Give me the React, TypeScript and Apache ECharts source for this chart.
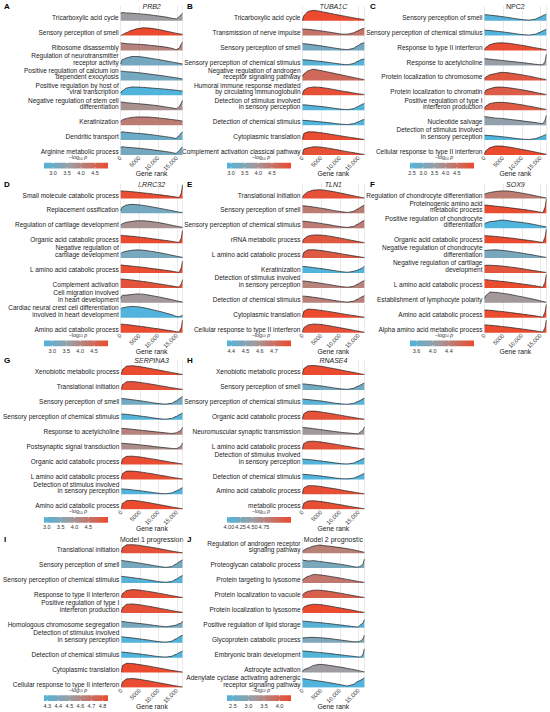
import React, { useEffect, useRef } from "react";
import * as echarts from "echarts";

// Shared gene-rank sample positions for every running curve
const GENE_RANK = [0, 400, 1500, 3000, 4500, 6000, 7500, 9000, 10500, 12000, 13500, 14800, 15600, 16100, 16500];
const X_TICKS = [0, 5000, 10000, 15000];
const X_MAX = 16500;

// ---------- Panel A ----------
const A_TERMS = [
  "Tricarboxylic acid cycle",
  "Sensory perception of smell",
  "Ribosome disassembly",
  "Regulation of neurotransmitter\nreceptor activity",
  "Positive regulation of calcium ion\ndependent exocytosis",
  "Positive regulation by host of\nviral transcription",
  "Negative regulation of stem cell\ndifferentiation",
  "Keratinization",
  "Dendritic transport",
  "Arginine metabolic process",
];
const A_NLOGP = [3.64, 4.96, 4.05, 3.14, 3.12, 2.68, 3.82, 4.15, 3.02, 3.14];
const A_CURVES = [
  [0.5, 0.55, 0.52, 0.5, 0.47, 0.44, 0.4, 0.35, 0.3, 0.25, 0.17, 0.12, 0.25, 0.4, 0.5],
  [0, 0.06, 0.2, 0.36, 0.47, 0.52, 0.51, 0.46, 0.39, 0.31, 0.23, 0.16, 0.12, 0.1, 0.09],
  [0.53, 0.5, 0.46, 0.44, 0.42, 0.4, 0.36, 0.32, 0.28, 0.23, 0.16, 0.06, 0.15, 0.4, 0.58],
  [0.1, 0.38, 0.5, 0.6, 0.6, 0.56, 0.5, 0.44, 0.38, 0.31, 0.24, 0.18, 0.14, 0.12, 0.1],
  [0.62, 0.62, 0.58, 0.56, 0.52, 0.48, 0.43, 0.38, 0.33, 0.28, 0.22, 0.17, 0.14, 0.11, 0.09],
  [0.15, 0.3, 0.48, 0.56, 0.55, 0.53, 0.5, 0.47, 0.44, 0.41, 0.37, 0.34, 0.31, 0.3, 0.29],
  [0.55, 0.55, 0.5, 0.47, 0.44, 0.41, 0.37, 0.33, 0.28, 0.22, 0.16, 0.1, 0.22, 0.45, 0.65],
  [0.25, 0.35, 0.45, 0.52, 0.55, 0.55, 0.54, 0.51, 0.47, 0.43, 0.38, 0.34, 0.31, 0.29, 0.27],
  [0.5, 0.55, 0.52, 0.48, 0.45, 0.42, 0.38, 0.33, 0.28, 0.23, 0.17, 0.1, 0.3, 0.45, 0.55],
  [0.52, 0.55, 0.52, 0.49, 0.46, 0.42, 0.38, 0.33, 0.28, 0.23, 0.17, 0.1, 0.28, 0.45, 0.55],
];
const A_LEGEND_TICKS = ["3.0", "3.5", "4.0", "4.5"];
const A_LEGEND_RANGE = [2.68, 4.96];

// ---------- Panel B ----------
const B_TERMS = [
  "Tricarboxylic acid cycle",
  "Transmission of nerve impulse",
  "Sensory perception of smell",
  "Sensory perception of chemical stimulus",
  "Negative regulation of androgen\nreceptor signaling pathway",
  "Humoral immune response mediated\nby circulating immunoglobulin",
  "Detection of stimulus involved\nin sensory perception",
  "Detection of chemical stimulus",
  "Cytoplasmic translation",
  "Complement activation classical pathway",
];
const B_NLOGP = [5.2, 4.5, 3.3, 2.95, 4.68, 5.1, 2.9, 2.85, 5.15, 5.1];
const B_CURVES = [
  [0, 0.35, 0.62, 0.7, 0.64, 0.56, 0.49, 0.41, 0.34, 0.27, 0.2, 0.14, 0.11, 0.09, 0.08],
  [0.44, 0.44, 0.42, 0.38, 0.33, 0.28, 0.22, 0.16, 0.1, 0.1, 0.18, 0.32, 0.42, 0.47, 0.5],
  [0.47, 0.46, 0.43, 0.38, 0.33, 0.27, 0.21, 0.15, 0.09, 0.06, 0.14, 0.32, 0.45, 0.5, 0.52],
  [0.38, 0.38, 0.36, 0.32, 0.28, 0.24, 0.19, 0.13, 0.08, 0.05, 0.12, 0.28, 0.38, 0.42, 0.44],
  [0.25, 0.45, 0.65, 0.75, 0.68, 0.6, 0.52, 0.44, 0.36, 0.28, 0.2, 0.13, 0.09, 0.07, 0.05],
  [0.05, 0.35, 0.5, 0.56, 0.54, 0.49, 0.43, 0.36, 0.29, 0.23, 0.16, 0.11, 0.08, 0.06, 0.05],
  [0.36, 0.36, 0.34, 0.3, 0.26, 0.22, 0.17, 0.11, 0.06, 0.04, 0.1, 0.24, 0.35, 0.42, 0.45],
  [0.32, 0.32, 0.3, 0.27, 0.23, 0.19, 0.15, 0.1, 0.06, 0.04, 0.09, 0.21, 0.3, 0.36, 0.38],
  [0.05, 0.45, 0.55, 0.55, 0.5, 0.45, 0.39, 0.33, 0.27, 0.21, 0.15, 0.1, 0.07, 0.05, 0.04],
  [0.05, 0.4, 0.48, 0.55, 0.54, 0.49, 0.43, 0.36, 0.29, 0.22, 0.16, 0.1, 0.07, 0.05, 0.04],
];
const B_LEGEND_TICKS = ["3.0", "3.5", "4.0", "4.5"];
const B_LEGEND_RANGE = [2.85, 5.2];

// ---------- Panel C ----------
const C_TERMS = [
  "Sensory perception of smell",
  "Sensory perception of chemical stimulus",
  "Response to type II interferon",
  "Response to acetylcholine",
  "Protein localization to chromosome",
  "Protein localization to chromatin",
  "Positive regulation of type I\ninterferon production",
  "Nucleotide salvage",
  "Detection of stimulus involved\nin sensory perception",
  "Cellular response to type II interferon",
];
const C_NLOGP = [2.5, 2.45, 5.2, 3.5, 5.0, 4.9, 4.95, 3.41, 2.41, 5.27];
const C_CURVES = [
  [0.4, 0.4, 0.37, 0.33, 0.28, 0.23, 0.17, 0.11, 0.06, 0.04, 0.1, 0.24, 0.34, 0.4, 0.44],
  [0.36, 0.36, 0.34, 0.3, 0.26, 0.21, 0.16, 0.1, 0.06, 0.04, 0.09, 0.22, 0.32, 0.38, 0.42],
  [0.05, 0.22, 0.4, 0.5, 0.52, 0.5, 0.45, 0.39, 0.33, 0.26, 0.19, 0.13, 0.09, 0.07, 0.05],
  [0.45, 0.45, 0.42, 0.38, 0.34, 0.3, 0.26, 0.22, 0.18, 0.13, 0.08, 0.05, 0.04, 0.25, 0.75],
  [0.08, 0.25, 0.38, 0.46, 0.54, 0.52, 0.47, 0.41, 0.35, 0.28, 0.2, 0.13, 0.09, 0.07, 0.05],
  [0.15, 0.35, 0.45, 0.55, 0.55, 0.52, 0.47, 0.41, 0.35, 0.28, 0.2, 0.13, 0.09, 0.07, 0.05],
  [0.1, 0.3, 0.45, 0.52, 0.53, 0.5, 0.46, 0.4, 0.34, 0.27, 0.2, 0.13, 0.09, 0.07, 0.05],
  [0.58, 0.56, 0.52, 0.47, 0.45, 0.41, 0.36, 0.32, 0.27, 0.22, 0.18, 0.12, 0.1, 0.3, 0.65],
  [0.32, 0.32, 0.3, 0.27, 0.23, 0.19, 0.14, 0.09, 0.05, 0.04, 0.09, 0.2, 0.28, 0.34, 0.38],
  [0.05, 0.3, 0.5, 0.6, 0.6, 0.55, 0.49, 0.42, 0.35, 0.28, 0.2, 0.13, 0.09, 0.07, 0.05],
];
const C_LEGEND_TICKS = ["2.5", "3.0", "3.5", "4.0", "4.5"];
const C_LEGEND_RANGE = [2.41, 5.27];

// ---------- Panel D ----------
const D_TERMS = [
  "Small molecule catabolic process",
  "Replacement ossification",
  "Regulation of cartilage development",
  "Organic acid catabolic process",
  "Negative regulation of\ncartilage development",
  "L amino acid catabolic process",
  "Complement activation",
  "Cell migration involved\nin heart development",
  "Cardiac neural crest cell differentiation\ninvolved in heart development",
  "Amino acid catabolic process",
];
const D_NLOGP = [4.95, 3.16, 3.85, 5.0, 3.2, 4.95, 4.85, 3.74, 2.7, 4.98];
const D_CURVES = [
  [0.5, 0.5, 0.48, 0.45, 0.41, 0.37, 0.33, 0.28, 0.24, 0.19, 0.14, 0.09, 0.06, 0.3, 0.9],
  [0.18, 0.42, 0.55, 0.6, 0.58, 0.53, 0.47, 0.4, 0.33, 0.26, 0.19, 0.12, 0.08, 0.06, 0.05],
  [0.2, 0.3, 0.4, 0.46, 0.5, 0.5, 0.47, 0.42, 0.36, 0.29, 0.21, 0.14, 0.1, 0.08, 0.07],
  [0.53, 0.52, 0.49, 0.46, 0.42, 0.38, 0.33, 0.28, 0.23, 0.18, 0.13, 0.07, 0.05, 0.3, 0.85],
  [0.3, 0.38, 0.46, 0.52, 0.55, 0.53, 0.48, 0.42, 0.35, 0.28, 0.2, 0.13, 0.09, 0.07, 0.05],
  [0.54, 0.53, 0.5, 0.46, 0.42, 0.38, 0.33, 0.28, 0.23, 0.18, 0.13, 0.07, 0.05, 0.3, 0.8],
  [0.6, 0.6, 0.57, 0.53, 0.48, 0.43, 0.38, 0.32, 0.26, 0.2, 0.14, 0.08, 0.06, 0.25, 0.55],
  [0.3, 0.5, 0.52, 0.56, 0.6, 0.58, 0.52, 0.45, 0.38, 0.3, 0.22, 0.14, 0.1, 0.07, 0.05],
  [0.62, 0.66, 0.72, 0.76, 0.74, 0.68, 0.6, 0.51, 0.42, 0.32, 0.22, 0.1, 0.06, 0.12, 0.18],
  [0.58, 0.57, 0.54, 0.5, 0.45, 0.4, 0.35, 0.29, 0.24, 0.18, 0.13, 0.07, 0.05, 0.3, 0.85],
];
const D_LEGEND_TICKS = ["3.0", "3.5", "4.0", "4.5"];
const D_LEGEND_RANGE = [2.7, 5.0];

// ---------- Panel E ----------
const E_TERMS = [
  "Translational initiation",
  "Sensory perception of smell",
  "Sensory perception of chemical stimulus",
  "rRNA metabolic process",
  "L amino acid catabolic process",
  "Keratinization",
  "Detection of stimulus involved\nin sensory perception",
  "Detection of chemical stimulus",
  "Cytoplasmic translation",
  "Cellular response to type II interferon",
];
const E_NLOGP = [4.8, 4.66, 4.66, 4.78, 4.77, 4.37, 4.64, 4.65, 4.82, 4.8];
const E_CURVES = [
  [0.05, 0.25, 0.45, 0.56, 0.58, 0.55, 0.49, 0.42, 0.34, 0.26, 0.18, 0.11, 0.07, 0.05, 0.04],
  [0.5, 0.5, 0.47, 0.42, 0.36, 0.3, 0.23, 0.16, 0.1, 0.06, 0.12, 0.3, 0.42, 0.5, 0.55],
  [0.47, 0.47, 0.44, 0.39, 0.34, 0.28, 0.22, 0.15, 0.09, 0.06, 0.11, 0.28, 0.4, 0.48, 0.52],
  [0.05, 0.3, 0.48, 0.55, 0.55, 0.52, 0.46, 0.39, 0.32, 0.25, 0.17, 0.11, 0.07, 0.05, 0.04],
  [0.05, 0.4, 0.55, 0.56, 0.52, 0.47, 0.41, 0.35, 0.28, 0.22, 0.15, 0.1, 0.07, 0.05, 0.04],
  [0.45, 0.44, 0.41, 0.36, 0.31, 0.26, 0.2, 0.14, 0.08, 0.05, 0.1, 0.2, 0.3, 0.36, 0.45],
  [0.46, 0.46, 0.43, 0.38, 0.33, 0.27, 0.21, 0.14, 0.08, 0.05, 0.1, 0.26, 0.38, 0.45, 0.5],
  [0.45, 0.45, 0.42, 0.37, 0.32, 0.26, 0.2, 0.14, 0.08, 0.05, 0.1, 0.25, 0.37, 0.44, 0.48],
  [0.05, 0.45, 0.58, 0.56, 0.51, 0.46, 0.4, 0.34, 0.27, 0.21, 0.15, 0.1, 0.07, 0.05, 0.04],
  [0.05, 0.35, 0.52, 0.58, 0.56, 0.51, 0.45, 0.38, 0.31, 0.24, 0.17, 0.11, 0.07, 0.05, 0.04],
];
const E_LEGEND_TICKS = ["4.4", "4.5", "4.6", "4.7"];
const E_LEGEND_RANGE = [4.37, 4.82];

// ---------- Panel F ----------
const F_TERMS = [
  "Regulation of chondrocyte differentiation",
  "Proteinogenic amino acid\nmetabolic process",
  "Positive regulation of chondrocyte\ndifferentiation",
  "Organic acid catabolic process",
  "Negative regulation of chondrocyte\ndifferentiation",
  "Negative regulation of cartilage\ndevelopment",
  "L amino acid catabolic process",
  "Establishment of lymphocyte polarity",
  "Amino acid catabolic process",
  "Alpha amino acid metabolic process",
];
const F_NLOGP = [4.47, 5.0, 3.44, 5.02, 3.79, 4.9, 5.0, 4.15, 5.0, 5.0];
const F_CURVES = [
  [0.28, 0.33, 0.4, 0.46, 0.5, 0.5, 0.46, 0.4, 0.33, 0.26, 0.18, 0.11, 0.07, 0.05, 0.04],
  [0.55, 0.55, 0.52, 0.48, 0.44, 0.4, 0.35, 0.3, 0.25, 0.2, 0.14, 0.08, 0.05, 0.35, 0.95],
  [0.28, 0.35, 0.45, 0.48, 0.55, 0.52, 0.46, 0.42, 0.37, 0.31, 0.24, 0.17, 0.13, 0.11, 0.1],
  [0.5, 0.5, 0.48, 0.45, 0.41, 0.37, 0.33, 0.28, 0.23, 0.18, 0.13, 0.07, 0.05, 0.35, 0.95],
  [0.5, 0.52, 0.54, 0.55, 0.52, 0.48, 0.43, 0.37, 0.31, 0.25, 0.18, 0.12, 0.08, 0.06, 0.05],
  [0.5, 0.52, 0.52, 0.5, 0.47, 0.43, 0.38, 0.33, 0.27, 0.21, 0.15, 0.1, 0.07, 0.05, 0.04],
  [0.55, 0.55, 0.52, 0.48, 0.44, 0.4, 0.35, 0.3, 0.25, 0.2, 0.14, 0.08, 0.05, 0.35, 0.9],
  [0.3, 0.5, 0.72, 0.7, 0.65, 0.6, 0.53, 0.45, 0.38, 0.3, 0.22, 0.14, 0.09, 0.06, 0.05],
  [0.52, 0.52, 0.5, 0.46, 0.42, 0.38, 0.33, 0.28, 0.23, 0.18, 0.13, 0.07, 0.05, 0.35, 0.9],
  [0.52, 0.52, 0.5, 0.46, 0.42, 0.38, 0.33, 0.28, 0.23, 0.18, 0.13, 0.07, 0.05, 0.3, 0.85],
];
const F_LEGEND_TICKS = ["3.6", "4.0", "4.4"];
const F_LEGEND_RANGE = [3.44, 5.02];

// ---------- Panel G ----------
const G_TERMS = [
  "Xenobiotic metabolic process",
  "Translational initiation",
  "Sensory perception of smell",
  "Sensory perception of chemical stimulus",
  "Response to acetylcholine",
  "Postsynaptic signal transduction",
  "Organic acid catabolic process",
  "L amino acid catabolic process",
  "Detection of stimulus involved\nin sensory perception",
  "Amino acid catabolic process",
];
const G_NLOGP = [5.2, 5.1, 3.32, 2.95, 4.29, 4.1, 5.15, 5.15, 2.9, 5.21];
const G_CURVES = [
  [0.05, 0.4, 0.6, 0.62, 0.58, 0.52, 0.45, 0.38, 0.31, 0.24, 0.17, 0.11, 0.07, 0.05, 0.04],
  [0.05, 0.38, 0.55, 0.56, 0.52, 0.47, 0.41, 0.35, 0.28, 0.22, 0.15, 0.1, 0.07, 0.05, 0.04],
  [0.42, 0.42, 0.39, 0.34, 0.29, 0.24, 0.18, 0.12, 0.07, 0.05, 0.1, 0.26, 0.4, 0.5, 0.55],
  [0.38, 0.38, 0.36, 0.32, 0.27, 0.22, 0.17, 0.11, 0.06, 0.04, 0.09, 0.22, 0.33, 0.4, 0.45],
  [0.42, 0.42, 0.4, 0.36, 0.32, 0.28, 0.24, 0.2, 0.16, 0.12, 0.08, 0.12, 0.22, 0.3, 0.5],
  [0.42, 0.42, 0.4, 0.37, 0.33, 0.29, 0.25, 0.2, 0.16, 0.12, 0.08, 0.06, 0.14, 0.25, 0.45],
  [0.05, 0.4, 0.55, 0.56, 0.52, 0.47, 0.41, 0.35, 0.28, 0.22, 0.15, 0.1, 0.07, 0.05, 0.04],
  [0.05, 0.42, 0.56, 0.56, 0.52, 0.47, 0.41, 0.35, 0.28, 0.22, 0.15, 0.1, 0.07, 0.05, 0.04],
  [0.36, 0.36, 0.34, 0.3, 0.26, 0.21, 0.16, 0.1, 0.06, 0.04, 0.09, 0.22, 0.32, 0.4, 0.45],
  [0.05, 0.42, 0.58, 0.6, 0.56, 0.5, 0.44, 0.37, 0.3, 0.23, 0.16, 0.1, 0.07, 0.05, 0.04],
];
const G_LEGEND_TICKS = ["3.0", "3.5", "4.0", "4.5"];
const G_LEGEND_RANGE = [2.9, 5.21];

// ---------- Panel H ----------
const H_TERMS = [
  "Xenobiotic metabolic process",
  "Sensory perception of smell",
  "Sensory perception of chemical stimulus",
  "Organic acid catabolic process",
  "Neuromuscular synaptic transmission",
  "L amino acid catabolic process",
  "Detection of stimulus involved\nin sensory perception",
  "Detection of chemical stimulus",
  "Amino acid catabolic process",
  "metabolic process",
];
const H_NLOGP = [5.33, 4.21, 4.03, 5.25, 4.58, 5.25, 3.98, 3.96, 5.28, 5.28];
const H_CURVES = [
  [0.05, 0.45, 0.62, 0.64, 0.6, 0.54, 0.47, 0.4, 0.32, 0.25, 0.18, 0.11, 0.07, 0.05, 0.04],
  [0.4, 0.4, 0.37, 0.33, 0.28, 0.23, 0.17, 0.11, 0.06, 0.04, 0.1, 0.24, 0.34, 0.42, 0.46],
  [0.38, 0.38, 0.35, 0.31, 0.27, 0.22, 0.16, 0.1, 0.06, 0.04, 0.09, 0.22, 0.32, 0.4, 0.44],
  [0.05, 0.42, 0.57, 0.58, 0.54, 0.48, 0.42, 0.36, 0.29, 0.22, 0.16, 0.1, 0.07, 0.05, 0.04],
  [0.5, 0.48, 0.45, 0.4, 0.35, 0.3, 0.25, 0.2, 0.15, 0.12, 0.08, 0.06, 0.2, 0.3, 0.52],
  [0.05, 0.42, 0.55, 0.56, 0.52, 0.47, 0.41, 0.35, 0.28, 0.22, 0.15, 0.1, 0.07, 0.05, 0.04],
  [0.36, 0.36, 0.33, 0.3, 0.25, 0.2, 0.15, 0.1, 0.05, 0.04, 0.09, 0.22, 0.32, 0.38, 0.42],
  [0.34, 0.34, 0.32, 0.28, 0.24, 0.19, 0.14, 0.09, 0.05, 0.04, 0.08, 0.2, 0.3, 0.36, 0.4],
  [0.05, 0.45, 0.58, 0.58, 0.54, 0.48, 0.42, 0.36, 0.29, 0.22, 0.16, 0.1, 0.07, 0.05, 0.04],
  [0.05, 0.42, 0.56, 0.57, 0.53, 0.48, 0.42, 0.35, 0.29, 0.22, 0.15, 0.1, 0.07, 0.05, 0.04],
];
const H_LEGEND_TICKS = ["4.00", "4.25", "4.50", "4.75"];
const H_LEGEND_RANGE = [3.96, 5.33];

// ---------- Panel I ----------
const I_TERMS = [
  "Translational initiation",
  "Sensory perception of smell",
  "Sensory perception of chemical stimulus",
  "Response to type II interferon",
  "Positive regulation of type I\ninterferon production",
  "Homologous chromosome segregation",
  "Detection of stimulus involved\nin sensory perception",
  "Detection of chemical stimulus",
  "Cytoplasmic translation",
  "Cellular response to type II interferon",
];
const I_NLOGP = [4.82, 4.39, 4.29, 4.83, 4.82, 4.39, 4.28, 4.27, 4.85, 4.84];
const I_CURVES = [
  [0.08, 0.4, 0.56, 0.57, 0.54, 0.48, 0.42, 0.36, 0.29, 0.22, 0.15, 0.09, 0.06, 0.04, 0.03],
  [0.52, 0.5, 0.46, 0.41, 0.35, 0.29, 0.23, 0.16, 0.1, 0.05, 0.1, 0.28, 0.42, 0.5, 0.55],
  [0.45, 0.44, 0.41, 0.36, 0.31, 0.26, 0.2, 0.14, 0.08, 0.05, 0.1, 0.26, 0.38, 0.46, 0.5],
  [0.05, 0.32, 0.5, 0.56, 0.54, 0.49, 0.43, 0.37, 0.3, 0.23, 0.16, 0.1, 0.07, 0.05, 0.04],
  [0.05, 0.38, 0.58, 0.6, 0.56, 0.5, 0.44, 0.37, 0.3, 0.23, 0.16, 0.1, 0.07, 0.05, 0.04],
  [0.42, 0.42, 0.38, 0.34, 0.3, 0.26, 0.21, 0.16, 0.11, 0.07, 0.12, 0.18, 0.28, 0.3, 0.45],
  [0.4, 0.39, 0.36, 0.32, 0.27, 0.22, 0.17, 0.11, 0.06, 0.04, 0.1, 0.26, 0.38, 0.46, 0.5],
  [0.38, 0.37, 0.34, 0.3, 0.26, 0.21, 0.16, 0.1, 0.06, 0.04, 0.09, 0.22, 0.33, 0.4, 0.45],
  [0.05, 0.5, 0.62, 0.6, 0.55, 0.49, 0.43, 0.36, 0.29, 0.22, 0.15, 0.1, 0.07, 0.05, 0.04],
  [0.05, 0.4, 0.58, 0.6, 0.56, 0.5, 0.44, 0.37, 0.3, 0.23, 0.16, 0.1, 0.07, 0.05, 0.04],
];
const I_LEGEND_TICKS = ["4.3", "4.4", "4.5", "4.6", "4.7", "4.8"];
const I_LEGEND_RANGE = [4.27, 4.85];

// ---------- Panel J ----------
const J_TERMS = [
  "Regulation of androgen receptor\nsignaling pathway",
  "Proteoglycan catabolic process",
  "Protein targeting to lysosome",
  "Protein localization to vacuole",
  "Protein localization to lysosome",
  "Positive regulation of lipid storage",
  "Glycoprotein catabolic process",
  "Embryonic brain development",
  "Astrocyte activation",
  "Adenylate cyclase activating adrenergic\nreceptor signaling pathway",
];
const J_NLOGP = [3.59, 2.76, 3.71, 4.06, 4.37, 2.41, 2.83, 2.35, 3.18, 2.31];
const J_CURVES = [
  [0.12, 0.22, 0.35, 0.48, 0.55, 0.5, 0.46, 0.41, 0.36, 0.3, 0.23, 0.16, 0.11, 0.08, 0.06],
  [0.55, 0.52, 0.48, 0.5, 0.45, 0.4, 0.35, 0.3, 0.24, 0.18, 0.1, 0.06, 0.15, 0.25, 0.6],
  [0.15, 0.3, 0.45, 0.58, 0.55, 0.5, 0.44, 0.38, 0.31, 0.24, 0.17, 0.11, 0.08, 0.06, 0.05],
  [0.15, 0.32, 0.45, 0.52, 0.52, 0.48, 0.43, 0.37, 0.3, 0.23, 0.16, 0.1, 0.07, 0.05, 0.04],
  [0.2, 0.4, 0.52, 0.58, 0.56, 0.51, 0.45, 0.38, 0.31, 0.24, 0.17, 0.1, 0.07, 0.05, 0.04],
  [0.45, 0.44, 0.42, 0.38, 0.35, 0.31, 0.27, 0.22, 0.18, 0.13, 0.08, 0.05, 0.22, 0.3, 0.55],
  [0.32, 0.33, 0.35, 0.36, 0.34, 0.31, 0.27, 0.22, 0.17, 0.12, 0.07, 0.06, 0.12, 0.25, 0.5],
  [0.45, 0.44, 0.42, 0.38, 0.35, 0.31, 0.27, 0.22, 0.18, 0.13, 0.09, 0.05, 0.04, 0.2, 0.6],
  [0.05, 0.2, 0.3, 0.48, 0.55, 0.52, 0.47, 0.41, 0.35, 0.28, 0.21, 0.14, 0.09, 0.07, 0.05],
  [0.6, 0.58, 0.54, 0.48, 0.43, 0.37, 0.31, 0.24, 0.17, 0.1, 0.2, 0.4, 0.5, 0.58, 0.65],
];
const J_LEGEND_TICKS = ["2.5", "3.0", "3.5", "4.0"];
const J_LEGEND_RANGE = [2.31, 4.37];

const PANELS = [
  { letter: "A", title: "PRB2", italic: true, terms: A_TERMS, nlogp: A_NLOGP, curves: A_CURVES, ticks: A_LEGEND_TICKS, range: A_LEGEND_RANGE, col: 0, row: 0 },
  { letter: "B", title: "TUBA1C", italic: true, terms: B_TERMS, nlogp: B_NLOGP, curves: B_CURVES, ticks: B_LEGEND_TICKS, range: B_LEGEND_RANGE, col: 1, row: 0 },
  { letter: "C", title: "NPC2", italic: false, terms: C_TERMS, nlogp: C_NLOGP, curves: C_CURVES, ticks: C_LEGEND_TICKS, range: C_LEGEND_RANGE, col: 2, row: 0 },
  { letter: "D", title: "LRRC32", italic: true, terms: D_TERMS, nlogp: D_NLOGP, curves: D_CURVES, ticks: D_LEGEND_TICKS, range: D_LEGEND_RANGE, col: 0, row: 1 },
  { letter: "E", title: "TLN1", italic: true, terms: E_TERMS, nlogp: E_NLOGP, curves: E_CURVES, ticks: E_LEGEND_TICKS, range: E_LEGEND_RANGE, col: 1, row: 1 },
  { letter: "F", title: "SOX9", italic: true, terms: F_TERMS, nlogp: F_NLOGP, curves: F_CURVES, ticks: F_LEGEND_TICKS, range: F_LEGEND_RANGE, col: 2, row: 1 },
  { letter: "G", title: "SERPINA3", italic: true, terms: G_TERMS, nlogp: G_NLOGP, curves: G_CURVES, ticks: G_LEGEND_TICKS, range: G_LEGEND_RANGE, col: 0, row: 2 },
  { letter: "H", title: "RNASE4", italic: true, terms: H_TERMS, nlogp: H_NLOGP, curves: H_CURVES, ticks: H_LEGEND_TICKS, range: H_LEGEND_RANGE, col: 1, row: 2 },
  { letter: "I", title: "Model 1 progression", italic: false, terms: I_TERMS, nlogp: I_NLOGP, curves: I_CURVES, ticks: I_LEGEND_TICKS, range: I_LEGEND_RANGE, col: 0, row: 3 },
  { letter: "J", title: "Model 2 prognostic", italic: false, terms: J_TERMS, nlogp: J_NLOGP, curves: J_CURVES, ticks: J_LEGEND_TICKS, range: J_LEGEND_RANGE, col: 1, row: 3 },
];

// ---------- layout & style ----------
const FONT = "Liberation Sans, Arial, Helvetica, sans-serif";
const COL_X = [0, 183, 366];
const ROW_Y = [0, 177.7, 354.3, 532.5];
const PLOT_OFF = [120.7, 119.5, 118.5];
const PLOT_W = 61.8;
const FIRST_BASE = 20.7;
const ROW_H = 14.92;
const N_ROWS = 10;
const TEXT_COLOR = "#1a1a1a";

const STOPS: [number, number[]][] = [
  [0, [80, 180, 220]],
  [0.42, [158, 156, 160]],
  [1, [236, 74, 46]],
];
function colorAt(t: number) {
  const tt = Math.max(0, Math.min(1, t));
  for (let i = 0; i < STOPS.length - 1; i++) {
    const [t0, c0] = STOPS[i];
    const [t1, c1] = STOPS[i + 1];
    if (tt <= t1) {
      const f = (tt - t0) / (t1 - t0);
      const c = c0.map((v, k) => Math.round(v + (c1[k] - v) * f));
      return `rgb(${c[0]},${c[1]},${c[2]})`;
    }
  }
  const c = STOPS[STOPS.length - 1][1];
  return `rgb(${c[0]},${c[1]},${c[2]})`;
}

function buildOption() {
  const grid: any[] = [];
  const xAxis: any[] = [];
  const yAxis: any[] = [];
  const series: any[] = [];
  const graphic: any[] = [];

  PANELS.forEach((p, pi) => {
    const ox = COL_X[p.col];
    const oy = ROW_Y[p.row];
    const left = ox + PLOT_OFF[p.col];
    const top = oy + FIRST_BASE - ROW_H;
    grid.push({ left, top, width: PLOT_W, height: ROW_H * N_ROWS });
    xAxis.push({
      type: "value",
      gridIndex: pi,
      min: 0,
      max: X_MAX,
      interval: 5000,
      axisLine: { show: false },
      axisTick: { show: false },
      splitLine: { show: true, lineStyle: { color: "#dcdcdc", width: 0.6 } },
      axisLabel: {
        rotate: 45,
        fontSize: 5.8,
        color: "#333",
        fontFamily: FONT,
        margin: 2,
        formatter: (v: number) => (X_TICKS.includes(v) ? (v < 10000 ? String(v) : v.toLocaleString("en-US")) : ""),
      },
      name: "Gene rank",
      nameLocation: "middle",
      nameGap: 15.5,
      nameMoveOverlap: false,
      nameTextStyle: { fontSize: 6.8, color: TEXT_COLOR, fontFamily: FONT, verticalAlign: "top" },
    });
    const terms = p.terms;
    yAxis.push({
      type: "value",
      gridIndex: pi,
      min: 0,
      max: N_ROWS,
      interval: 1,
      axisLine: { show: false },
      axisTick: { show: false },
      splitLine: { show: false },
      axisLabel: {
        interval: 0,
        fontSize: 6.5,
        lineHeight: 6.8,
        color: TEXT_COLOR,
        fontFamily: FONT,
        margin: 2,
        verticalAlign: "bottom",
        formatter: (v: number) => {
          const idx = N_ROWS - 1 - Math.round(v);
          return idx >= 0 && idx < terms.length ? terms[idx] : "";
        },
      },
    });
    const [rmin, rmax] = p.range;
    p.curves.forEach((c, r) => {
      const base = N_ROWS - 1 - r;
      const col = colorAt((p.nlogp[r] - rmin) / (rmax - rmin));
      series.push({
        type: "line",
        name: `${p.letter}-${r}`,
        xAxisIndex: pi,
        yAxisIndex: pi,
        data: GENE_RANK.map((x, i) => [x, base + c[i]]),
        symbol: "none",
        smooth: 0.25,
        smoothMonotone: "x",
        silent: true,
        lineStyle: { color: "#1c1c1c", width: 0.7 },
        areaStyle: { origin: base, color: col, opacity: 1 },
      });
    });

    // panel letter & title
    graphic.push({
      type: "text",
      x: ox + 4,
      y: oy + 6.5,
      style: { text: p.letter, font: `bold 8px ${FONT}`, fill: "#000", verticalAlign: "middle", align: "left" },
    });
    graphic.push({
      type: "text",
      x: left + PLOT_W / 2,
      y: oy + 6.5,
      style: {
        text: p.title,
        font: `${p.italic ? "italic " : ""}7px ${FONT}`,
        fill: "#222",
        align: "center",
        verticalAlign: "middle",
      },
    });

    // colour-bar legend
    const bx = ox + 44;
    const bw = 64;
    const by = oy + 162.7;
    const bh = 5.8;
    graphic.push({
      type: "text",
      x: ox + 78,
      y: oy + 157,
      style: {
        text: "{a|−log}{s|10}{i| p}",
        align: "center",
        verticalAlign: "middle",
        rich: {
          a: { fontSize: 5.3, fontFamily: FONT, fill: "#333", verticalAlign: "middle" },
          s: { fontSize: 3.6, fontFamily: FONT, fill: "#333", verticalAlign: "bottom", padding: [3, 0, 0, 0] },
          i: { fontSize: 5.3, fontFamily: FONT, fontStyle: "italic", fill: "#333", verticalAlign: "middle" },
        },
      },
    });
    graphic.push({
      type: "rect",
      shape: { x: bx, y: by, width: bw, height: bh },
      style: {
        fill: new echarts.graphic.LinearGradient(
          0, 0, 1, 0,
          STOPS.map(([o, c]) => ({ offset: o, color: `rgb(${c[0]},${c[1]},${c[2]})` }))
        ),
      },
    });
    p.ticks.forEach((lab) => {
      const v = parseFloat(lab);
      const tx = bx + ((v - rmin) / (rmax - rmin)) * bw;
      graphic.push({ type: "line", shape: { x1: tx, y1: by, x2: tx, y2: by + 1.2 }, style: { stroke: "#fff", lineWidth: 0.6 } });
      graphic.push({ type: "line", shape: { x1: tx, y1: by + bh - 1.2, x2: tx, y2: by + bh }, style: { stroke: "#fff", lineWidth: 0.6 } });
      graphic.push({
        type: "text",
        x: tx,
        y: by + bh + 4.6,
        style: { text: lab, font: `5.5px ${FONT}`, fill: "#333", align: "center", verticalAlign: "middle" },
      });
    });
  });

  return {
    animation: false,
    backgroundColor: "#ffffff",
    grid,
    xAxis,
    yAxis,
    series,
    graphic,
  };
}

export default function App() {
  const ref = useRef<HTMLDivElement>(null);
  useEffect(() => {
    if (!ref.current) return;
    const chart = echarts.init(ref.current, undefined, { renderer: "svg" });
    chart.setOption(buildOption() as any);
    return () => chart.dispose();
  }, []);
  return (
    <div
      ref={ref}
      style={{ position: "absolute", left: 0, top: 0, width: 550, height: 712, background: "#fff" }}
    />
  );
}
